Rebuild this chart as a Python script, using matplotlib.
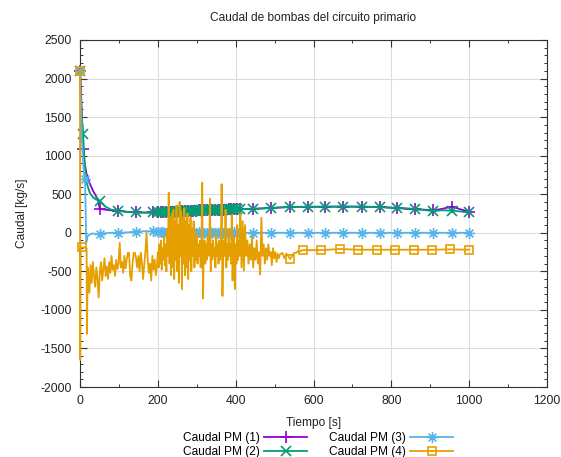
import numpy as np
import matplotlib
matplotlib.use("Agg")
import matplotlib.pyplot as plt
from matplotlib.path import Path
from matplotlib.lines import Line2D
from matplotlib.ticker import MultipleLocator

plt.rcParams['font.family'] = ['Liberation Sans', 'DejaVu Sans']
plt.rcParams['axes.unicode_minus'] = False

# ---- data ----
labels = ['Caudal PM (1)', 'Caudal PM (2)', 'Caudal PM (3)', 'Caudal PM (4)']

# dense output window (200-410 s) shared by PM 1-3
t_dense = np.arange(200, 411, 7)
q_dense = [265, 267, 269, 270, 272, 274, 275, 277, 278, 280,
           281, 283, 284, 286, 287, 289, 290, 291, 293, 294,
           295, 297, 298, 299, 300, 301, 302, 303, 304, 305, 306]
t_tail = [445, 492, 540, 585, 630, 677, 725, 771, 815, 861, 908, 956, 1000]

# PM (1)
t1 = [0, 2, 5, 8, 12, 17, 25, 34, 42, 46, 51, 65, 80, 98, 120, 144, 166, 188] + list(t_dense) + \
     [445, 492, 540, 585, 630, 677, 725, 771, 790, 815, 838, 861, 885, 908, 930, 956, 980, 1000]
q1 = [2100, 1900, 1500, 1090, 900, 760, 640, 540, 470, 430, 310, 300, 290, 285, 272, 263, 262, 263] + q_dense + \
     [310, 322, 335, 337, 338, 340, 338, 335, 330, 322, 310, 305, 300, 290, 310, 340, 300, 275]

# PM (2)
t2 = [0, 2, 5, 8, 12, 17, 25, 34, 42, 51, 65, 80, 98, 120, 144, 166, 188] + list(t_dense) + \
     [445, 492, 540, 585, 630, 677, 725, 771, 790, 815, 838, 861, 885, 908, 930, 956, 980, 1000]
q2 = [2100, 1750, 1480, 1280, 900, 650, 520, 455, 430, 410, 340, 300, 285, 272, 263, 262, 263] + q_dense + \
     [310, 322, 335, 337, 338, 340, 338, 335, 325, 320, 318, 307, 295, 280, 292, 287, 275, 268]

# PM (3)
t3 = [0, 5, 10, 13, 16, 20, 30, 51, 65, 80, 98, 120, 144, 166, 188] + list(t_dense) + t_tail
q3 = [2100, 1200, 760, 700, -130, -40, -10, -15, -5, 0, 0, 5, 15, 20, 20] + \
     [15, 10, 5, 0, 10, 5, -5, 5, 0, 10, 5, 0, -5, 5, 0, 5,
      0, -5, 0, 5, 0, -5, 0, 5, 0, 0, -5, 0, 5, 0, 0] + \
     [0, 0, 0, 0, 0, 0, 0, 0, 0, 0, 0, 0, 0]

marks_123 = [0, 8, 13, 51, 98, 144, 188] + list(t_dense) + t_tail

# PM (4)
t4_a = [0, 0.5, 1.5, 5, 10, 15, 17, 18, 19.5]
q4_a = [2100, -1650, -200, -190, -190, -190, -200, -1310, -450]
t4_b = np.arange(21, 199, 3)
q4_b = [-520, -780, -420, -650, -380, -560, -700, -450, -600, -840,
        -500, -380, -620, -470, -330, -560, -440, -600, -380, -520,
        -300, -480, -420, -560, -350, -470, -400, -130, -450, -380,
        -520, -300, -460, -350, -260, -260, -560, -620, -400, -260,
        -260, -330, -450, -300, -500, -260, -380, -600, -420, -250,
        0, -350, -520, -400, -620, -300, -480, -350, -550, -400]
t4_c = np.arange(200, 411, 2)
q4_c = [-250, -450, -150, -400, -100, -480, -200, -350, -50, -420,
        -150, -500, 50, -300, 520, -400, 200, -550, 250, -450,
        300, -600, 150, -350, 350, -500, 100, -650, 400, -300,
        280, -730, 200, -400, 320, -550, 150, -450, 250, -600,
        100, -350, 200, -500, 50, -300, 150, -450, -50, -350,
        0, -400, -150, -300, -100, -450, -200, 650, -850, -250,
        -100, -400, -150, -350, -50, -300, -200, 440, -500, -150,
        -350, -100, -300, -200, -450, 0, -300, -150, -400, -100,
        -350, -200, 630, -820, -250, -100, -300, 300, -450, -150,
        -350, 50, -300, -150, -400, 230, -620, -200, -50, -730,
        -150, -400, 100, -350, -100, -300]
t4_d = np.arange(412, 516, 3)
q4_d = [250, -450, 150, -490, 100, -300, -100, -400, -150, -350,
        -50, -450, -200, -350, -100, -400, -250, -540, 195, -300,
        -150, -400, -200, -350, -150, -300, -250, -420, -200, -330,
        -250, -380, -270, -330, -280]
t4_e = np.arange(520, 570, 5)
q4_e = [-260, -330, -270, -300, -340, -300, -260, -260, -240, -240]
t4_f = [573, 620, 668, 715, 762, 810, 857, 905, 952, 1000]
q4_f = [-225, -225, -210, -220, -220, -220, -220, -220, -215, -220]

t4 = np.concatenate([t4_a, t4_b, t4_c, t4_d, t4_e, t4_f])
q4 = np.concatenate([q4_a, q4_b, q4_c, q4_d, q4_e, q4_f])
marks_4 = [0, 5, 540] + t4_f

# ---- style ----
colors = ['#9400d3', '#009e73', '#56b4e9', '#e69f00']
d = 0.7071
asterisk = Path([(-1, 0), (1, 0), (0, -1), (0, 1), (-d, -d), (d, d), (-d, d), (d, -d)],
                [Path.MOVETO, Path.LINETO] * 4)
markers = ['+', 'x', asterisk, 's']
msizes = [8, 6.5, 8, 6]

fig = plt.figure(figsize=(5.61, 4.57), dpi=100)
ax = fig.add_axes([80 / 561, 1 - 387 / 457, 467 / 561, 347 / 457])

series = [(t1, q1, marks_123), (t2, q2, marks_123), (t3, q3, marks_123), (t4, q4, marks_4)]
for i, (t, q, mk) in enumerate(series):
    t = np.asarray(t, dtype=float)
    mask = np.isin(t, mk)
    ax.plot(t, q, color=colors[i], lw=1.3, marker=markers[i], markevery=list(mask),
            ms=msizes[i], mfc='none', mec=colors[i], mew=1.2, clip_on=False, zorder=3 + i * 0.1)

ax.set_xlim(0, 1200)
ax.set_ylim(-2000, 2500)
ax.xaxis.set_major_locator(MultipleLocator(200))
ax.xaxis.set_minor_locator(MultipleLocator(100))
ax.yaxis.set_major_locator(MultipleLocator(500))
ax.yaxis.set_minor_locator(MultipleLocator(100))
ax.tick_params(which='both', direction='in', top=True, right=True, labelsize=8.8,
               color='#333333', labelcolor='#222222')
ax.tick_params(which='major', length=5, width=0.8, pad=6)
ax.tick_params(which='minor', length=2.5, width=0.7)
ax.grid(True, which='major', color='#dddddd', lw=0.8)
ax.set_axisbelow(True)
for s in ax.spines.values():
    s.set_color('#333333')
    s.set_linewidth(0.8)

ax.set_title('Caudal de bombas del circuito primario', fontsize=8.6, pad=14, color='#222222')
ax.set_xlabel('Tiempo [s]', fontsize=8.6, color='#222222')
ax.set_ylabel('Caudal [kg/s]', fontsize=8.6, color='#222222')
ax.xaxis.set_label_coords(0.5, -0.087)
ax.yaxis.set_label_coords(-0.112, 0.5)

handles = [Line2D([], [], color=colors[i], lw=1.3, marker=markers[i], ms=msizes[i],
                  mfc='none', mec=colors[i], mew=1.2) for i in range(4)]
fig.legend(handles, labels, ncol=2, loc='center', bbox_to_anchor=(0.567, 0.026),
           frameon=False, markerfirst=False, handlelength=3.6, handletextpad=0.4,
           columnspacing=1.8, labelspacing=0.2, fontsize=8.6, borderpad=0)

fig.savefig('out.png', dpi=100)
